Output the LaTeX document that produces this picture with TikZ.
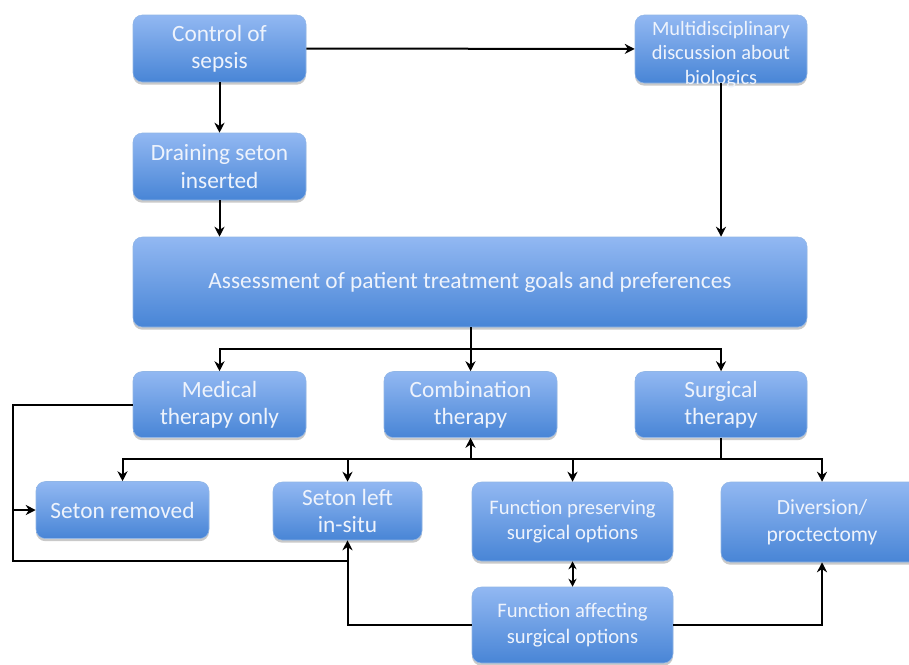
\documentclass[tikz,border=0pt]{standalone}
\usepackage{fontspec}
\setmainfont{Carlito}
\usetikzlibrary{arrows.meta,shadows}
\definecolor{boxtop}{RGB}{146,184,242}
\definecolor{boxbot}{RGB}{72,133,214}
\definecolor{boxtext}{RGB}{238,243,252}
\begin{document}
\begin{tikzpicture}[
  x=0.75pt, y=-0.75pt,
  box/.style={rounded corners=7pt, top color=boxtop, bottom color=boxbot, draw=boxbot!60!white, line width=0.4pt,
    text=boxtext, align=center, inner sep=1pt, font=\fontsize{17.5}{20.5}\selectfont,
    drop shadow={shadow xshift=0pt, shadow yshift=-2pt, opacity=0.3, fill=black!70}},
  smalltext/.style={font=\fontsize{15.5}{19}\selectfont},
  link/.style={line width=1.5pt},
  arrow/.style={-{Stealth[length=7.5pt,width=7.5pt]}, line width=1.5pt}
]
\useasboundingbox (0,0) rectangle (909,664);
% top row
\node[box, minimum width=129.75pt, minimum height=50.25pt] (ctrl) at (219.5,48.5) {Control of\\sepsis};
\node[box, minimum width=129pt, minimum height=51pt, font=\fontsize{15.3}{18.4}\selectfont, inner xsep=0pt, inner ysep=-4pt] (multi) at (721,49) {\rule{0pt}{18.5pt}Multidisciplinary\\discussion about\\biologics};
\node[box, minimum width=129.75pt, minimum height=50.25pt] (drain) at (219.5,166.5) {Draining seton\\inserted};
\node[box, minimum width=505.5pt, minimum height=67.5pt] (assess) at (470,282) {Assessment of patient treatment goals and preferences};
% therapies
\node[box, minimum width=129.75pt, minimum height=49.5pt] (medical) at (219.5,404.5) {Medical\\therapy only};
\node[box, minimum width=129.75pt, minimum height=49.5pt] (combo) at (470.5,404.5) {Combination\\therapy};
\node[box, minimum width=129pt, minimum height=49.5pt] (surgical) at (721,404.5) {Surgical\\therapy};
% outcomes
\node[box, minimum width=129.75pt, minimum height=42.75pt] (removed) at (122.5,510) {Seton removed};
\node[box, minimum width=111.75pt, minimum height=43.5pt] (left) at (347.5,511) {Seton left\\in-situ};
\node[box, smalltext, minimum width=150.75pt, minimum height=59.25pt] (preserve) at (572.5,521.5) {Function preserving\\surgical options};
\node[box, font=\fontsize{16.2}{20}\selectfont, minimum width=151.5pt, minimum height=60pt] (diversion) at (822,522) {Diversion/\\proctectomy};
\node[box, smalltext, minimum width=150.75pt, minimum height=57pt] (affect) at (572.5,625) {Function affecting\\surgical options};

\coordinate (busA) at (470.5,349);
\coordinate (busB) at (721,459);
\coordinate (loopTop) at (13,404.5);
\coordinate (loopTap) at (13,510);
\coordinate (loopBot) at (13,561);

\draw[arrow] (ctrl) -- (multi);
\draw[arrow] (ctrl) -- (drain);
\draw[arrow] (drain) -- (drain |- assess.north);
\draw[arrow] (multi) -- (multi |- assess.north);

\draw[link] (assess.south -| busA) -- (busA);
\draw[arrow] (busA) -| (medical);
\draw[arrow] (busA) -- (combo);
\draw[arrow] (busA) -| (surgical);

\draw[link] (surgical) -- (busB);
\draw[arrow] (busB) -| (removed);
\draw[arrow] (busB) -| (left);
\draw[arrow] (busB) -| (preserve);
\draw[arrow] (busB) -| (diversion);
\draw[arrow] (combo.south |- busB) -- (combo);

\draw[link] (medical.west) -- (loopTop) -- (loopBot) -- (left |- loopBot);
\draw[arrow] (loopTap) -- (removed);

\draw[arrow] (affect.west) -| (left);
\draw[arrow] (affect.east) -| (diversion);
\draw[{Stealth[length=6pt,width=6pt]}-{Stealth[length=6pt,width=6pt]}, line width=1.5pt] (preserve) -- (affect);
\end{tikzpicture}
\end{document}
